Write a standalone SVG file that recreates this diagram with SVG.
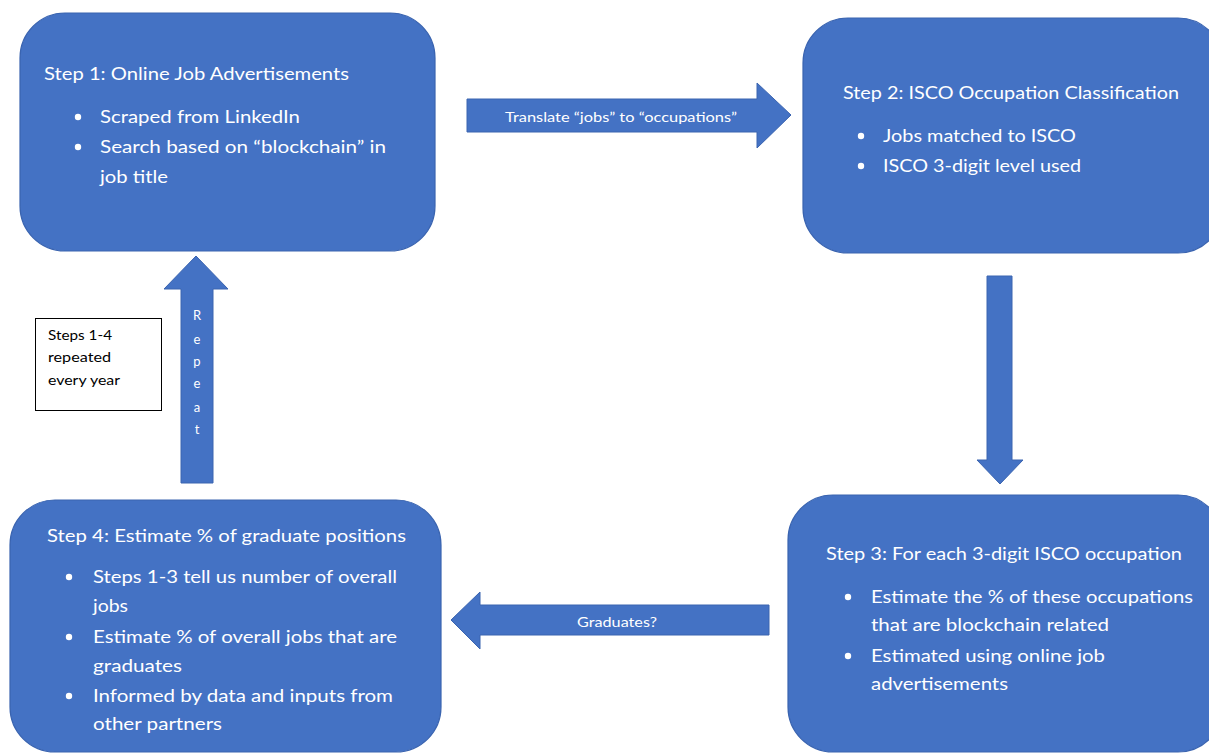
<svg xmlns="http://www.w3.org/2000/svg" width="1209" height="753" viewBox="0 0 1209 753">
<style>
.box{fill:#4472C4;stroke:#3a64b0;stroke-width:1.2}
.arr{fill:#4472C4;stroke:#3a64b0;stroke-width:1}
.t{font-family:Lato,"Open Sans","Liberation Sans",sans-serif;fill:#ffffff;font-size:18px}
.s{font-family:Lato,"Open Sans","Liberation Sans",sans-serif;fill:#ffffff;font-size:13px}
.n{font-family:Lato,"Open Sans","Liberation Sans",sans-serif;fill:#000000;font-size:14px}
.b{fill:#ffffff}
</style>
<rect width="1209" height="753" fill="#ffffff"/>
<g id="connectors">
  <polygon class="arr" points="467,99 757,99 757,83 791,115 757,148 757,132 467,132"/>
  <polygon class="arr" points="987,276 1012,276 1012,460 1023,460 1000,484 977,460 987,460"/>
  <polygon class="arr" points="769,605 480,605 480,592 451,620 480,649 480,635 769,635"/>
  <polygon class="arr" points="181,483 213,483 213,289 228,289 196,256 164,289 181,289"/>
  <text class="s" x="505" y="122" textLength="232" lengthAdjust="spacingAndGlyphs">Translate “jobs” to “occupations”</text>
  <text class="s" x="577" y="627" textLength="80" lengthAdjust="spacingAndGlyphs">Graduates?</text>
  <g class="s" text-anchor="middle">
    <text x="197" y="320">R</text>
    <text x="197" y="344">e</text>
    <text x="197" y="366">p</text>
    <text x="197" y="388">e</text>
    <text x="197" y="412">a</text>
    <text x="197" y="434">t</text>
  </g>
</g>
<g id="step1">
  <rect class="box" x="20" y="13" width="415" height="238" rx="45" ry="45"/>
  <text class="t" x="44" y="80" textLength="305" lengthAdjust="spacingAndGlyphs">Step 1: Online Job Advertisements</text>
  <circle class="b" cx="78" cy="117" r="3.2"/>
  <text class="t" x="100" y="123" textLength="200" lengthAdjust="spacingAndGlyphs">Scraped from LinkedIn</text>
  <circle class="b" cx="78" cy="147" r="3.2"/>
  <text class="t" x="100" y="153" textLength="286" lengthAdjust="spacingAndGlyphs">Search based on “blockchain” in</text>
  <text class="t" x="100" y="183" textLength="68" lengthAdjust="spacingAndGlyphs">job title</text>
</g>
<g id="step2">
  <rect class="box" x="803" y="18" width="420" height="235" rx="45" ry="45"/>
  <text class="t" x="843" y="99" textLength="336" lengthAdjust="spacingAndGlyphs">Step 2: ISCO Occupation Classification</text>
  <circle class="b" cx="861" cy="136" r="3.2"/>
  <text class="t" x="883" y="142" textLength="193" lengthAdjust="spacingAndGlyphs">Jobs matched to ISCO</text>
  <circle class="b" cx="861" cy="166" r="3.2"/>
  <text class="t" x="883" y="172" textLength="198" lengthAdjust="spacingAndGlyphs">ISCO 3-digit level used</text>
</g>
<g id="step3">
  <rect class="box" x="788" y="495" width="435" height="257" rx="45" ry="45"/>
  <text class="t" x="826" y="560" textLength="356" lengthAdjust="spacingAndGlyphs">Step 3: For each 3-digit ISCO occupation</text>
  <circle class="b" cx="848" cy="597" r="3.2"/>
  <text class="t" x="871" y="603" textLength="322" lengthAdjust="spacingAndGlyphs">Estimate the % of these occupations</text>
  <text class="t" x="871" y="631" textLength="238" lengthAdjust="spacingAndGlyphs">that are blockchain related</text>
  <circle class="b" cx="848" cy="656" r="3.2"/>
  <text class="t" x="871" y="662" textLength="234" lengthAdjust="spacingAndGlyphs">Estimated using online job</text>
  <text class="t" x="871" y="690" textLength="137" lengthAdjust="spacingAndGlyphs">advertisements</text>
</g>
<g id="step4">
  <rect class="box" x="10" y="500" width="431" height="252" rx="45" ry="45"/>
  <text class="t" x="47" y="542" textLength="359" lengthAdjust="spacingAndGlyphs">Step 4: Estimate % of graduate positions</text>
  <circle class="b" cx="69" cy="577" r="3.2"/>
  <text class="t" x="93" y="583" textLength="304" lengthAdjust="spacingAndGlyphs">Steps 1-3 tell us number of overall</text>
  <text class="t" x="93" y="612" textLength="35" lengthAdjust="spacingAndGlyphs">jobs</text>
  <circle class="b" cx="69" cy="637" r="3.2"/>
  <text class="t" x="93" y="643" textLength="304" lengthAdjust="spacingAndGlyphs">Estimate % of overall jobs that are</text>
  <text class="t" x="93" y="672" textLength="89" lengthAdjust="spacingAndGlyphs">graduates</text>
  <circle class="b" cx="69" cy="696" r="3.2"/>
  <text class="t" x="93" y="702" textLength="300" lengthAdjust="spacingAndGlyphs">Informed by data and inputs from</text>
  <text class="t" x="93" y="730" textLength="129" lengthAdjust="spacingAndGlyphs">other partners</text>
</g>
<g id="note">
  <rect x="35.5" y="318.5" width="126" height="92" fill="#ffffff" stroke="#000000" stroke-width="1"/>
  <text class="n" x="48" y="340" textLength="64" lengthAdjust="spacingAndGlyphs">Steps 1-4</text>
  <text class="n" x="48" y="362" textLength="63" lengthAdjust="spacingAndGlyphs">repeated</text>
  <text class="n" x="48" y="385" textLength="72" lengthAdjust="spacingAndGlyphs">every year</text>
</g>
</svg>
